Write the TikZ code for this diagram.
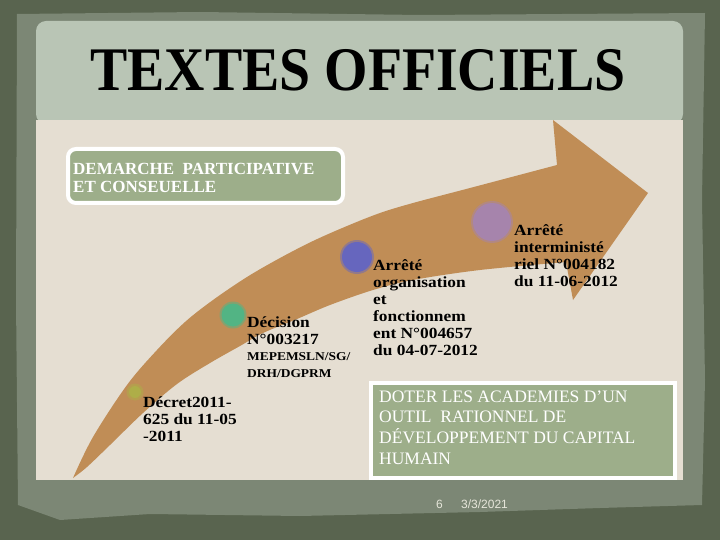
\documentclass[tikz,border=0pt]{standalone}
\usepackage{fontspec}
\usepackage{graphicx}
\newfontfamily\libserif{Liberation Serif}
\newfontfamily\bodyserif[FakeStretch=1.12]{Liberation Serif}
\newfontfamily\libsans{Liberation Sans}
\definecolor{bgdark}{HTML}{59644F}
\definecolor{bgband}{HTML}{7C8775}
\definecolor{titlesage}{HTML}{B9C5B5}
\definecolor{paper}{HTML}{E5DED2}
\definecolor{boxsage}{HTML}{9DAE8A}
\definecolor{arrowc}{HTML}{C08D56}
\definecolor{dotolive}{HTML}{AEAE48}
\definecolor{dotgreen}{HTML}{52B484}
\definecolor{dotblue}{HTML}{6666BE}
\definecolor{dotpurple}{HTML}{A684AC}
\definecolor{foot}{HTML}{E6E6DA}
\tikzset{
  lbl/.style={anchor=north west, inner sep=0pt, align=left, text=black,
    font=\bodyserif\bfseries\fontsize{15.5}{17}\selectfont},
  sagebox/.style={draw=white, line width=4pt, fill=boxsage},
  dotstyle/.style={circle, inner sep=0pt},
}
\begin{document}
\begin{tikzpicture}[x=1pt,y=-1pt]
\useasboundingbox (0,0) rectangle (720,540);
% background frame
\fill[bgdark] (0,0) rectangle (720,540);
\fill[bgband] (17,14) -- (200,12) -- (420,15) -- (705,13) -- (702,200) -- (705,380) -- (702,505) -- (600,508) -- (480,512) -- (300,516) -- (150,514) -- (60,520) -- (18,505) -- (16,300) -- cycle;
% title panel
\fill[titlesage, rounded corners=10pt] (36,21) rectangle (683,124);
\node[font=\libserif\bfseries\fontsize{62}{62}\selectfont, inner sep=0pt, anchor=base] (title) at (358,91) {\scalebox{0.9}[1]{TEXTES OFFICIELS}};
% paper
\fill[paper] (36,120) rectangle (683,480);
% curved arrow
\fill[arrowc] plot[smooth, tension=0.55] coordinates {(73,478) (93,437) (127,385) (157,350) (185,322) (213,300) (247,277) (280,258) (313,241) (347,226) (380,213) (413,203) (470,188) (557,165)}
  -- (553,120) -- (648,193) -- (573,300) -- (566,262)
  -- plot[smooth, tension=0.55] coordinates {(566,262) (480,270) (413,280) (373,290) (330,305) (297,319) (263,333) (240,346) (210,363) (177,384) (143,413) (110,445) (87,467) (73,478)} -- cycle;
% dots
\node[dotstyle, fill=dotolive, opacity=0.5, minimum size=17pt] (d1h) at (135,392) {};
\node[dotstyle, fill=dotolive, minimum size=12pt] (d1) at (135,392) {};
\node[dotstyle, fill=dotgreen, opacity=0.5, minimum size=27pt] (d2h) at (233,315) {};
\node[dotstyle, fill=dotgreen, minimum size=23pt] (d2) at (233,315) {};
\node[dotstyle, fill=dotblue, opacity=0.5, minimum size=34pt] (d3h) at (357,257) {};
\node[dotstyle, fill=dotblue, minimum size=30pt] (d3) at (357,257) {};
\node[dotstyle, fill=dotpurple, opacity=0.5, minimum size=42pt] (d4h) at (492,222) {};
\node[dotstyle, fill=dotpurple, minimum size=38pt] (d4) at (492,222) {};
% labels
\node[lbl] (t1) at (143,397) {Décret2011-\\625 du 11-05\\-2011};
\node[lbl] (t2) at (247,317) {Décision\\N°003217\\[-1pt]{\fontsize{12}{16}\selectfont MEPEMSLN/SG/}\\{\fontsize{12}{16}\selectfont DRH/DGPRM}};
\node[lbl] (t3) at (373,259) {Arrêté\\organisation\\et\\fonctionnem\\ent N°004657\\du 04-07-2012};
\node[lbl] (t4) at (514,224) {Arrêté\\interministé\\riel N°004182\\du 11-06-2012};
% top box
\draw[sagebox, rounded corners=8pt] (68,149) rectangle (343,203);
\node[anchor=north west, inner sep=0pt, align=left, text=white, font=\libserif\bfseries\fontsize{17}{18}\selectfont] (demarche) at (73,162.7) {DEMARCHE\ \ PARTICIPATIVE\\ET CONSEUELLE};
% bottom box
\draw[sagebox] (370.5,382.5) rectangle (674.5,477.5);
\node[anchor=north west, inner sep=0pt, align=left, text=white, font=\libserif\fontsize{17.5}{20.7}\selectfont] (doter) at (379,390.3) {DOTER LES ACADEMIES D’UN\\OUTIL\ \ RATIONNEL DE\\DÉVELOPPEMENT DU CAPITAL\\HUMAIN};
% footer
\node[anchor=base west, inner sep=0pt, text=foot, font=\libsans\fontsize{12}{14}\selectfont] (page) at (436,508) {6};
\node[anchor=base west, inner sep=0pt, text=foot, font=\libsans\fontsize{12}{14}\selectfont] (date) at (461,508) {3/3/2021};
\end{tikzpicture}
\end{document}
